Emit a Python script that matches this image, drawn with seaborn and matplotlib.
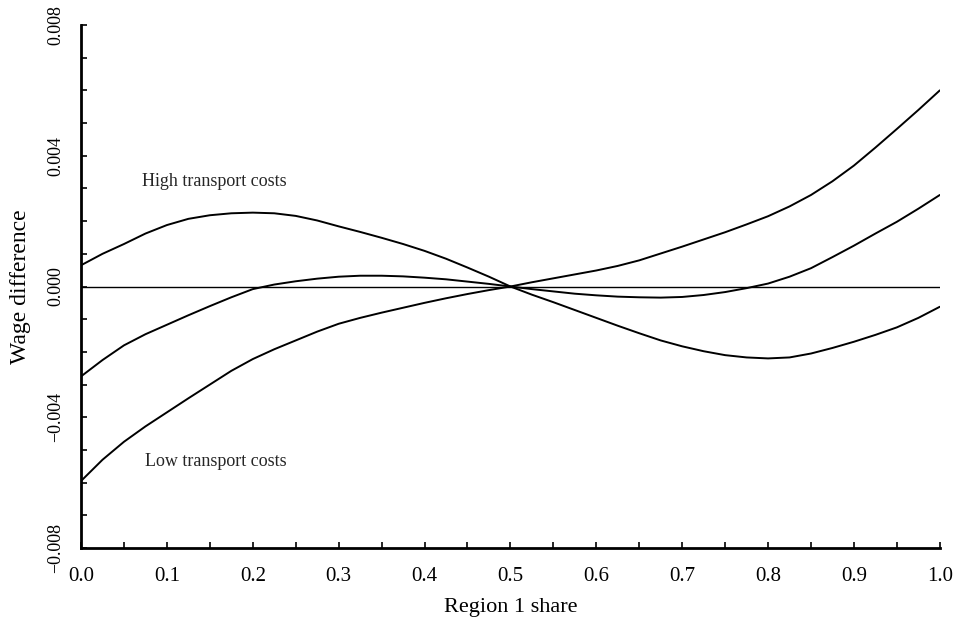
import numpy as np
import pandas as pd
import seaborn as sns
import matplotlib.pyplot as plt
from matplotlib.ticker import MultipleLocator, FuncFormatter

share = [round(i * 0.025, 3) for i in range(41)]

# wage difference, in units of 0.001
high_tc = [0.65, 1.00, 1.30, 1.62, 1.88, 2.07, 2.18, 2.24, 2.26, 2.24,
           2.16, 2.02, 1.84, 1.67, 1.49, 1.30, 1.09, 0.85, 0.58, 0.30,
           0.00, -0.25, -0.48, -0.72, -0.96, -1.20, -1.43, -1.65, -1.83, -1.98,
           -2.10, -2.17, -2.20, -2.17, -2.05, -1.88, -1.69, -1.48, -1.25, -0.96,
           -0.62]
mid_tc = [-2.75, -2.25, -1.80, -1.46, -1.17, -0.88, -0.60, -0.33, -0.08, 0.06,
          0.16, 0.24, 0.30, 0.33, 0.33, 0.31, 0.27, 0.22, 0.15, 0.08,
          0.00, -0.08, -0.15, -0.22, -0.27, -0.31, -0.33, -0.34, -0.32, -0.26,
          -0.17, -0.05, 0.09, 0.30, 0.56, 0.90, 1.25, 1.62, 1.98, 2.38,
          2.80]
low_tc = [-5.95, -5.30, -4.75, -4.28, -3.85, -3.42, -3.00, -2.58, -2.22, -1.92,
          -1.65, -1.38, -1.14, -0.96, -0.80, -0.65, -0.50, -0.36, -0.23, -0.11,
          0.00, 0.13, 0.25, 0.37, 0.49, 0.63, 0.80, 1.01, 1.22, 1.44,
          1.66, 1.90, 2.15, 2.45, 2.80, 3.22, 3.70, 4.25, 4.82, 5.40,
          6.00]

n = len(share)
df = pd.DataFrame({
    "share": share * 3,
    "wage": np.array(high_tc + mid_tc + low_tc) / 1000,
    "curve": ["high"] * n + ["mid"] * n + ["low"] * n,
})

sns.set_theme(style="ticks")
plt.rcParams["font.family"] = ["Liberation Serif", "DejaVu Serif"]

dpi = 100
fig = plt.figure(figsize=(959 / dpi, 619 / dpi), dpi=dpi)
ax = fig.add_axes([0.0845, 0.1147, 0.8955, 0.8449])

sns.lineplot(data=df, x="share", y="wage", units="curve", estimator=None,
             color="black", linewidth=1.4, ax=ax)
ax.axhline(0, color="black", linewidth=1.0)

ax.set_xlim(0, 1)
ax.set_ylim(-0.008, 0.008)
ax.xaxis.set_major_locator(MultipleLocator(0.1))
ax.xaxis.set_minor_locator(MultipleLocator(0.05))
ax.yaxis.set_major_locator(MultipleLocator(0.004))
ax.yaxis.set_minor_locator(MultipleLocator(0.001))
ax.xaxis.set_major_formatter(FuncFormatter(lambda v, p: f"{v:.1f}".replace("-", "\u2212")))
ax.yaxis.set_major_formatter(FuncFormatter(lambda v, p: f"{v:.3f}".replace("-", "\u2212")))

for s in ("top", "right"):
    ax.spines[s].set_visible(False)
for s in ("left", "bottom"):
    ax.spines[s].set_linewidth(2.0)
    ax.spines[s].set_color("black")

ax.tick_params(which="both", direction="in", length=4, width=1.2, color="black",
               labelcolor="black")
ax.tick_params(axis="x", which="both", pad=14, labelsize=15)
ax.tick_params(axis="y", which="both", pad=12, labelsize=13)
for lab in ax.get_yticklabels():
    lab.set_rotation(90)
    lab.set_va("center")

ax.set_xlabel("Region 1 share", fontsize=16, labelpad=8, color="black")
ax.set_ylabel("Wage difference", fontsize=17, labelpad=12, color="black")

ax.text(0.071, 0.0032, "High transport costs", fontsize=13, va="center", ha="left")
ax.text(0.075, -0.00535, "Low transport costs", fontsize=13, va="center", ha="left")

fig.savefig("out.png", dpi=dpi)
